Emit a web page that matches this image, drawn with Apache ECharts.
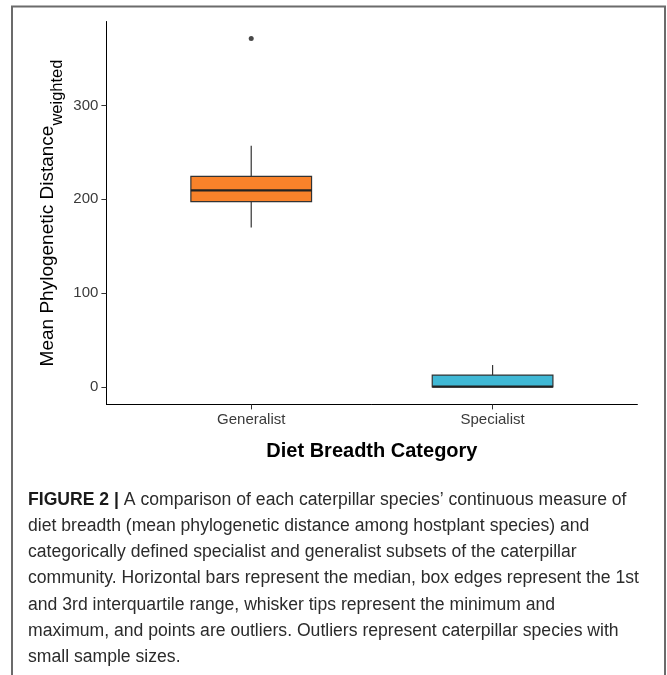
<!DOCTYPE html>
<html>
<head>
<meta charset="utf-8">
<script src="https://cdn.jsdelivr.net/npm/echarts@6/dist/echarts.min.js"></script>
<style>
html,body{margin:0;padding:0;background:#fff;}
#chart{width:667px;height:675px;}
</style>
</head>
<body>
<div id="chart"></div>
<script>
// ---- data ----
const categories = ['Generalist', 'Specialist'];
const whiskerMin = [170, 0];
const quartile1 = [197.5, 0];
const medians = [209.5, 0.3];
const quartile3 = [224.5, 12.7];
const whiskerMax = [257, 23.4];
const outliers = [[1, 371.5]]; // [category position, value]
const yTicks = [0, 100, 200, 300];

const captionLines = [
  '{b|FIGURE 2 |} A comparison of each caterpillar species\u2019 continuous measure of',
  'diet breadth (mean phylogenetic distance among hostplant species) and',
  'categorically defined specialist and generalist subsets of the caterpillar',
  'community. Horizontal bars represent the median, box edges represent the 1st',
  'and 3rd interquartile range, whisker tips represent the minimum and',
  'maximum, and points are outliers. Outliers represent caterpillar species with',
  'small sample sizes.'
];

// ---- styles ----
const FONT = '"Liberation Sans", Arial, sans-serif';
const boxColors = ['#F9822A', '#40B8D5'];
const BOX_WIDTH = 0.5; // in category units

const boxData = categories.map((c, i) => [i + 1, whiskerMin[i], quartile1[i], medians[i], quartile3[i], whiskerMax[i]]);

function renderBox(params, api) {
  const x = api.value(0);
  const pMin = api.coord([x, api.value(1)]);
  const pQ1 = api.coord([x, api.value(2)]);
  const pMed = api.coord([x, api.value(3)]);
  const pQ3 = api.coord([x, api.value(4)]);
  const pMax = api.coord([x, api.value(5)]);
  const half = api.size([BOX_WIDTH, 0])[0] / 2;
  const stroke = '#333333';
  return {
    type: 'group',
    children: [
      {type: 'line', shape: {x1: pMax[0], y1: pMax[1], x2: pQ3[0], y2: pQ3[1]}, style: {stroke: stroke, lineWidth: 1.2}},
      {type: 'line', shape: {x1: pQ1[0], y1: pQ1[1], x2: pMin[0], y2: pMin[1]}, style: {stroke: stroke, lineWidth: 1.2}},
      {type: 'rect', shape: {x: pQ3[0] - half, y: pQ3[1], width: half * 2, height: pQ1[1] - pQ3[1]},
        style: {fill: boxColors[params.dataIndex], stroke: stroke, lineWidth: 1.2}},
      {type: 'line', shape: {x1: pMed[0] - half, y1: pMed[1], x2: pMed[0] + half, y2: pMed[1]}, style: {stroke: '#222', lineWidth: 2.2}}
    ]
  };
}

const chart = echarts.init(document.getElementById('chart'), null, {renderer: 'canvas'});

const graphics = [
  {type: 'rect', shape: {x: 12, y: 6.5, width: 653, height: 700},
    style: {fill: 'none', stroke: '#6b6b6b', lineWidth: 2}, silent: true}
];
captionLines.forEach((line, i) => {
  graphics.push({
    type: 'text',
    x: 28,
    y: 500 + i * 26.2,
    style: {
      text: line,
      fill: '#2b2b2b',
      font: '17.6px ' + FONT,
      verticalAlign: 'middle',
      align: 'left',
      rich: {
        b: {fontWeight: 'bold', fontSize: 17.6, fontFamily: FONT, fill: '#1a1a1a'}
      }
    }
  });
});

chart.setOption({
  animation: false,
  backgroundColor: '#ffffff',
  grid: {left: 106.4, right: 29.6, top: 21.5, bottom: 270.6, containLabel: false},
  xAxis: {
    type: 'value',
    min: 0.4,
    max: 2.6,
    name: 'Diet Breadth Category',
    nameLocation: 'middle',
    nameGap: 37,
    nameMoveOverlap: false,
    nameTextStyle: {fontSize: 20, fontWeight: 'bold', color: '#000', fontFamily: FONT},
    axisLine: {show: true, onZero: false, lineStyle: {color: '#000', width: 1}},
    axisTick: {show: true, length: 5, customValues: [1, 2], lineStyle: {color: '#333'}},
    axisLabel: {
      customValues: [1, 2],
      margin: 8,
      fontSize: 15,
      color: '#3a3a3a',
      fontFamily: FONT,
      formatter: v => categories[Math.round(v) - 1] || ''
    },
    splitLine: {show: false}
  },
  yAxis: {
    type: 'value',
    min: -18.55,
    max: 389.55,
    name: '{a|Mean Phylogenetic Distance}{s|weighted}',
    nameLocation: 'middle',
    nameGap: 40,
    nameMoveOverlap: false,
    nameTextStyle: {
      fontFamily: FONT,
      color: '#000',
      rich: {
        a: {fontSize: 19, color: '#000', fontFamily: FONT},
        s: {fontSize: 16.5, color: '#000', fontFamily: FONT, padding: [20, 0, 0, 0]}
      }
    },
    axisLine: {show: true, onZero: false, lineStyle: {color: '#000', width: 1}},
    axisTick: {show: true, length: 5, customValues: yTicks, lineStyle: {color: '#333'}},
    axisLabel: {
      customValues: yTicks,
      margin: 8,
      fontSize: 15,
      color: '#3a3a3a',
      fontFamily: FONT
    },
    splitLine: {show: false}
  },
  graphic: graphics,
  series: [
    {
      type: 'custom',
      renderItem: renderBox,
      encode: {x: 0, y: [1, 2, 3, 4, 5]},
      data: boxData,
      clip: false
    },
    {
      type: 'scatter',
      data: outliers,
      symbol: 'circle',
      symbolSize: 5,
      itemStyle: {color: '#1a1a1a'}
    }
  ]
});
</script>
</body>
</html>
